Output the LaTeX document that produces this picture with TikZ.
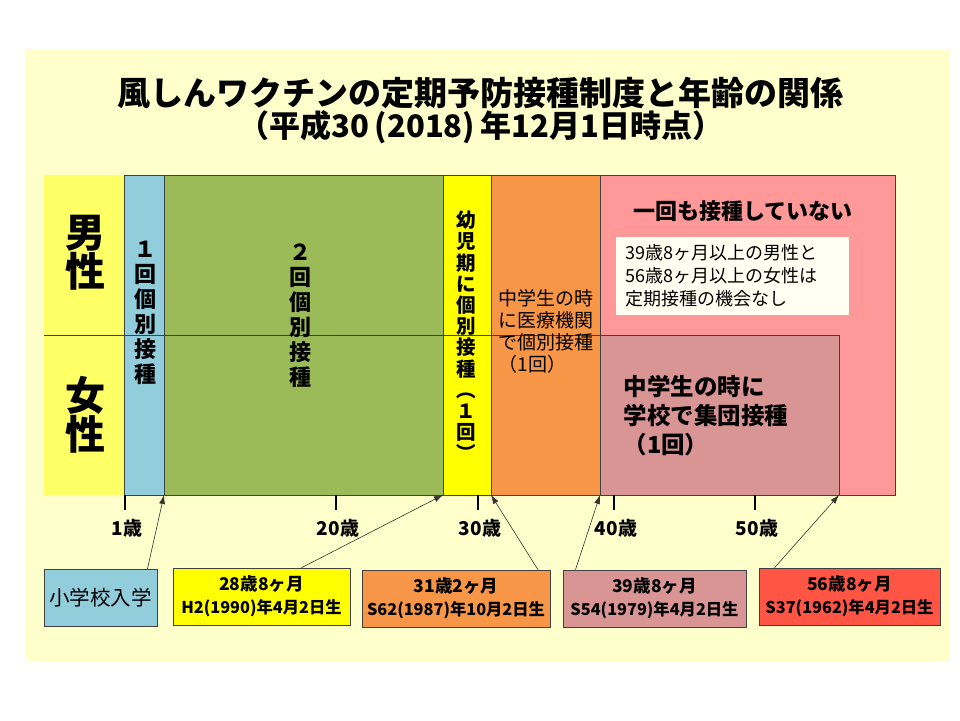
\documentclass[tikz,border=0pt]{standalone}
\usepackage{fontspec}
\setmainfont{Noto Sans CJK JP}
\usetikzlibrary{arrows.meta}
\definecolor{panel}{HTML}{FFFFCC}
\definecolor{sexcol}{HTML}{FFFF66}
\definecolor{onecol}{HTML}{92CDDC}
\definecolor{twocol}{HTML}{9BBB59}
\definecolor{kidcol}{HTML}{FFFF00}
\definecolor{midcol}{HTML}{F79646}
\definecolor{nonecol}{HTML}{FF9999}
\definecolor{groupcol}{HTML}{D99594}
\definecolor{oldcol}{HTML}{FF5544}
\definecolor{notecol}{HTML}{FFFFF2}
\newcommand{\birth}{\fontsize{16.3}{23}\selectfont}
\begin{document}
\begin{tikzpicture}[x=1pt,y=-1pt,
            cell/.style={draw=black!75, line width=0.8pt},
            tick/.style={line width=2pt},
            arr/.style={-{Latex[length=9pt,width=6pt]}, draw=black!80, line width=0.6pt},
            datebox/.style={draw=black!75, line width=0.6pt, minimum height=57pt, inner sep=0pt,
              align=center, font=\bfseries\fontsize{17.5}{23}\selectfont},
            vtext/.style={align=center, font=\bfseries\fontsize{22}{25}\selectfont},
            agelab/.style={font=\bfseries\fontsize{19}{22}\selectfont}]
            \useasboundingbox (0,0) rectangle (960,720);
            \fill[white] (0,0) rectangle (960,720);
            \fill[panel] (25,49) rectangle (950,662);

            \node[font=\bfseries\fontsize{33}{36}\selectfont] (title1) at (480,93) {風しんワクチンの定期予防接種制度と年齢の関係};
            \node[font=\bfseries\fontsize{31}{36}\selectfont] (title2) at (481,127) {（平成30\,(2018)\,年12月1日時点）};

            \fill[sexcol] (44,175) rectangle (124,495);
            \fill[onecol] (124,175) rectangle (164,495);
            \fill[twocol] (164,175) rectangle (443,495);
            \fill[kidcol] (443,175) rectangle (491,495);
            \fill[midcol] (491,175) rectangle (600,495);
            \fill[nonecol] (600,175) rectangle (895,495);
            \draw[cell] (124,175) rectangle (164,495);
            \draw[cell] (164,175) rectangle (443,495);
            \draw[cell] (443,175) rectangle (491,495);
            \draw[cell] (491,175) rectangle (600,495);
            \draw[cell] (600,175) rectangle (895,495);
            \draw[cell] (44,335) -- (600,335);
            \filldraw[cell, fill=groupcol] (600,335) rectangle (839,495);
            \fill[notecol] (616,237) rectangle (849,315);

            \node[align=center, font=\bfseries\fontsize{40}{35}\selectfont] (male) at (85,253) {男\\性};
            \node[align=center, font=\bfseries\fontsize{40}{35}\selectfont] (female) at (85,415) {女\\性};
            \node[vtext] (once) at (145,313) {１\\回\\個\\別\\接\\種};
            \node[vtext] (twice) at (300,316) {２\\回\\個\\別\\接\\種};
            \node[vtext, font=\bfseries\fontsize{19.5}{21.2}\selectfont] (infant) at (466,336)
              {幼\\児\\期\\に\\個\\別\\接\\種\\︵\\１\\回\\︶};
            \node[anchor=west, align=left, font=\fontsize{19}{22}\selectfont] (junior) at (495,331)
              {中学生の時\\に医療機関\\で個別接種\\（1回）};
            \node[font=\bfseries\fontsize{22}{26}\selectfont] (never) at (743,211) {一回も接種していない};
            \node[anchor=west, align=left, font=\fontsize{18}{23}\selectfont] (note) at (622,276)
              {39歳8ヶ月以上の男性と\\56歳8ヶ月以上の女性は\\定期接種の機会なし};
            \node[anchor=west, align=left, font=\bfseries\fontsize{23.5}{29}\selectfont] (group) at (620,416)
              {中学生の時に\\学校で集団接種\\（1回）};

            \foreach \x/\a in {125/1, 336/20, 478/30, 614/40, 755/50} {
              \draw[tick] (\x,495) -- (\x,510);
              \node[agelab] (age\a) at (\x+2,528) {\a 歳};
            }

            \node[datebox, fill=onecol, minimum width=113pt, font=\fontsize{20.5}{24}\selectfont] (school) at (100.5,597.5) {小学校入学};
            \node[datebox, fill=kidcol, minimum width=177pt] (d1990) at (261.5,596.5) {28歳8ヶ月\\\birth H2(1990)年4月2日生};
            \node[datebox, fill=midcol, minimum width=188pt] (d1987) at (456,598.5) {31歳2ヶ月\\\birth S62(1987)年10月2日生};
            \node[datebox, fill=groupcol, minimum width=183pt] (d1979) at (654.5,598.5) {39歳8ヶ月\\\birth S54(1979)年4月2日生};
            \node[datebox, fill=oldcol, minimum width=181pt] (d1962) at (849.5,596.5) {56歳8ヶ月\\\birth S37(1962)年4月2日生};

            \coordinate (p1) at (164,495);
            \coordinate (p2) at (443,495);
            \coordinate (p3) at (491,495);
            \coordinate (p4) at (600,495);
            \coordinate (p5) at (839,495);
            \draw[arr] ([xshift=47pt]school.north) -- (p1);
            \draw[arr] ([xshift=40pt]d1990.north) -- (p2);
            \draw[arr] ([xshift=82pt]d1987.north) -- (p3);
            \draw[arr] ([xshift=-79pt]d1979.north) -- (p4);
            \draw[arr] ([xshift=-75pt]d1962.north) -- (p5);
\end{tikzpicture}
\end{document}
